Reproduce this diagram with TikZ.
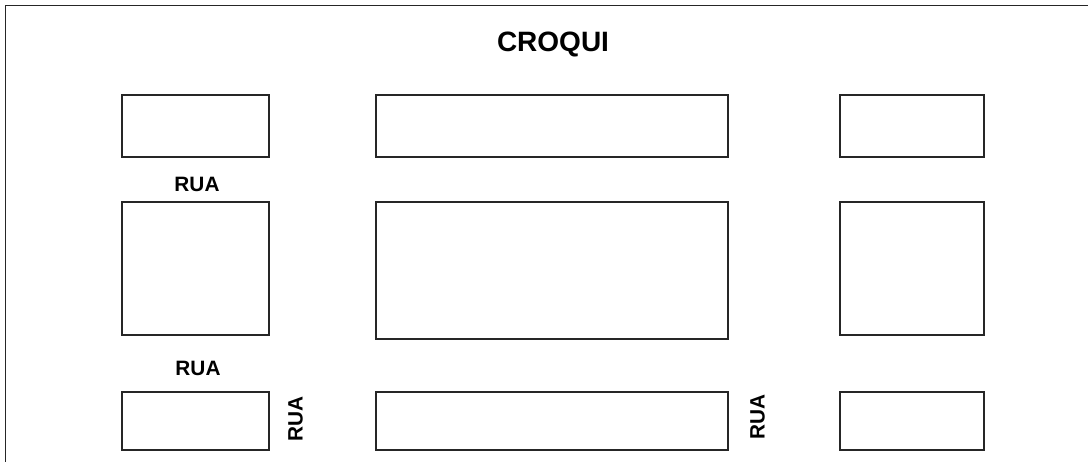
\documentclass[tikz,border=0pt]{standalone}
\usepackage{fontspec}
\setmainfont{Liberation Sans}
\begin{document}
\begin{tikzpicture}[x=0.75pt,y=-0.75pt,
  lot/.style={draw=black!85,line width=1.1pt,fill=white,inner sep=0pt,outer sep=0pt},
  rua/.style={font=\fontsize{15.6}{18}\selectfont\bfseries,inner sep=0pt}]
\useasboundingbox (0,0) rectangle (1088,461);
\clip (0,0) rectangle (1088,461);
\draw[black!85,line width=1.1pt] (5.5,5.5) rectangle (1110,490);
\node[font=\fontsize{21}{25}\selectfont\bfseries,inner sep=0pt] (title) at (553,44) {CROQUI};
% top row
\node[lot,minimum width=147*0.75pt,minimum height=62*0.75pt] (a1) at (195.5,126) {};
\node[lot,minimum width=352*0.75pt,minimum height=62*0.75pt] (a2) at (552,126) {};
\node[lot,minimum width=144*0.75pt,minimum height=62*0.75pt] (a3) at (912,126) {};
% middle row
\node[lot,minimum width=147*0.75pt,minimum height=133*0.75pt] (b1) at (195.5,268.5) {};
\node[lot,minimum width=352*0.75pt,minimum height=137*0.75pt] (b2) at (552,270.5) {};
\node[lot,minimum width=144*0.75pt,minimum height=133*0.75pt] (b3) at (912,268.5) {};
% bottom row
\node[lot,minimum width=147*0.75pt,minimum height=58*0.75pt] (c1) at (195.5,421) {};
\node[lot,minimum width=352*0.75pt,minimum height=58*0.75pt] (c2) at (552,421) {};
\node[lot,minimum width=144*0.75pt,minimum height=58*0.75pt] (c3) at (912,421) {};
% street labels
\node[rua] (r1) at (197,184) {RUA};
\node[rua] (r2) at (198,368) {RUA};
\node[rua,rotate=90] (r3) at (295.5,418.5) {RUA};
\node[rua,rotate=90] (r4) at (757.5,416.5) {RUA};
\end{tikzpicture}
\end{document}
